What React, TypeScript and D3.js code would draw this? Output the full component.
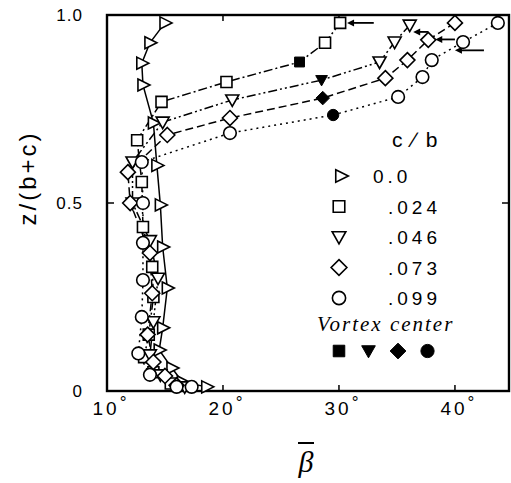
import React from "react";
import * as d3 from "d3";

// [beta (deg), z/(b+c)]
const cb000 = [
  [15.0, 0.979], [13.7, 0.926], [13.0, 0.872], [13.1, 0.814], [14.0, 0.713],
  [14.3, 0.6], [14.6, 0.495], [14.8, 0.383], [15.2, 0.274], [14.8, 0.168],
  [14.5, 0.109], [15.6, 0.061], [16.5, 0.024], [18.6, 0.011],
];
const cb024 = [
  [30.1, 0.979], [28.8, 0.926], [20.3, 0.822], [14.7, 0.769], [12.6, 0.667],
  [13.0, 0.556], [13.1, 0.436], [13.9, 0.33], [14.0, 0.25], [13.6, 0.15],
  [13.2, 0.09], [14.0, 0.05], [15.5, 0.02],
];
const cb046 = [
  [36.1, 0.973], [34.8, 0.928], [33.5, 0.875], [20.8, 0.774], [14.8, 0.715],
  [12.2, 0.609], [12.2, 0.5], [13.7, 0.4], [14.4, 0.3], [14.0, 0.184],
  [13.7, 0.096], [14.6, 0.043], [16.7, 0.011],
];
const cb073 = [
  [40.0, 0.979], [37.7, 0.934], [35.9, 0.88], [34.0, 0.832], [20.6, 0.726],
  [15.2, 0.681], [11.8, 0.582], [12.0, 0.5], [13.7, 0.367], [13.9, 0.26],
  [13.5, 0.15], [14.0, 0.077], [15.0, 0.04], [16.0, 0.015],
];
const cb099 = [
  [43.7, 0.979], [40.7, 0.928], [38.0, 0.88], [37.2, 0.835], [35.1, 0.782],
  [20.6, 0.686], [13.0, 0.609], [13.1, 0.5], [13.1, 0.394], [13.1, 0.295],
  [13.0, 0.197], [12.7, 0.1], [13.7, 0.043], [16.0, 0.011], [17.3, 0.011],
];
// vortex centres, one per c/b
const vortexBeta = [26.6, 28.5, 28.6, 29.5];
const vortexZ = [0.875, 0.827, 0.779, 0.734];
// arrows: [from beta, to beta, z]
const arrows = [
  [33.0, 30.7, 0.979],
  [37.7, 36.4, 0.955],
  [40.0, 38.3, 0.935],
  [42.5, 40.0, 0.906],
];

const legendLabels = ["0.0", ".024", ".046", ".073", ".099"];
const xTicks = [10, 20, 30, 40];
const yTicks = [0, 0.5, 1.0];
const yTickLabels = ["0", "0.5", "1.0"];

const shapes = ["tri", "sq", "dtri", "dia", "circ"];
const dashes = [null, "9,3,2,3", "9,3,2,3,2,3", "8,4", "2,4"];
const allSeries = [cb000, cb024, cb046, cb073, cb099];

const W = 511;
const H = 483;
const left = 107, right = 509, top = 15, bottom = 391;

function markerPath(shape: string, s = 1) {
  switch (shape) {
    case "tri":
      return `M${-5 * s},${-6 * s}L${7 * s},0L${-5 * s},${6 * s}Z`;
    case "sq":
      return `M${-5.5 * s},${-5.5 * s}h${11 * s}v${11 * s}h${-11 * s}Z`;
    case "dtri":
      return `M${-6.5 * s},${-5 * s}L${6.5 * s},${-5 * s}L0,${6.5 * s}Z`;
    case "dia":
      return `M0,${-7.5 * s}L${7.5 * s},0L0,${7.5 * s}L${-7.5 * s},0Z`;
    default:
      return d3.arc()({ innerRadius: 0, outerRadius: 6.3 * s, startAngle: 0, endAngle: Math.PI * 2 }) as string;
  }
}

const App = () => {
  const x = d3.scaleLinear().domain([10, 44.66]).range([left, right]);
  const y = d3.scaleLinear().domain([0, 1]).range([bottom, top]);
  const line = d3
    .line<number[]>()
    .x((d) => x(d[0]))
    .y((d) => y(d[1]));

  const sans = "'Liberation Sans', Arial, sans-serif";
  const serif = "'Liberation Serif', 'Times New Roman', serif";

  return (
    <svg width={W} height={H} style={{ position: "absolute", left: 0, top: 0, background: "#fff" }}>
      {/* frame */}
      <rect x={left} y={top} width={right - left} height={bottom - top} fill="none" stroke="#000" strokeWidth={2.4} />
      {xTicks.slice(1).map((t) => (
        <g key={"xt" + t}>
          <line x1={x(t)} x2={x(t)} y1={bottom} y2={bottom - 6} stroke="#000" strokeWidth={1.5} />
          <line x1={x(t)} x2={x(t)} y1={top} y2={top + 6} stroke="#000" strokeWidth={1.5} />
        </g>
      ))}
      <line x1={left} x2={left + 7} y1={y(0.5)} y2={y(0.5)} stroke="#000" strokeWidth={1.5} />
      <line x1={right} x2={right - 7} y1={y(0.5)} y2={y(0.5)} stroke="#000" strokeWidth={1.5} />

      {/* tick labels */}
      {xTicks.map((t) => (
        <text key={"xl" + t} x={x(t) + 4} y={415} fontFamily={sans} fontSize={19} textAnchor="middle" letterSpacing={3}>
          {t}
          <tspan dy={-7} fontSize={17}>°</tspan>
        </text>
      ))}
      {yTicks.map((t, i) => (
        <text key={"yl" + t} x={83} y={y(t) + 6} fontFamily={sans} fontSize={17} textAnchor="end" letterSpacing={1}>
          {yTickLabels[i]}
        </text>
      ))}

      {/* axis titles */}
      <text
        transform="translate(36,178) rotate(-90)"
        fontFamily={sans}
        fontSize={24}
        textAnchor="middle"
        letterSpacing={3}
      >
        z/(b+c)
      </text>
      <line x1={298} x2={314} y1={443} y2={443} stroke="#000" strokeWidth={2} />
      <text x={306} y={472} fontFamily={serif} fontStyle="italic" fontSize={30} textAnchor="middle">
        β
      </text>

      {/* series lines (vortex centre lies on its curve) */}
      {allSeries.map((s, i) => {
        const pts = i === 0 ? s : [...s, [vortexBeta[i - 1], vortexZ[i - 1]]];
        const sorted = [...pts].sort((a, b) => b[1] - a[1]);
        return (
          <path
            key={"ln" + i}
            d={line(sorted) as string}
            fill="none"
            stroke="#000"
            strokeWidth={1.5}
            strokeDasharray={dashes[i] ?? undefined}
          />
        );
      })}

      {/* arrows */}
      {arrows.map((a, i) => (
        <g key={"ar" + i}>
          <line x1={x(a[0])} x2={x(a[1]) + 5} y1={y(a[2])} y2={y(a[2])} stroke="#000" strokeWidth={1.8} />
          <path d={`M${x(a[1])},${y(a[2])}l7,-3.5v7Z`} fill="#000" />
        </g>
      ))}

      {/* markers */}
      {allSeries.map((s, i) =>
        s.map((d, j) => (
          <path
            key={"m" + i + "-" + j}
            d={markerPath(shapes[i])}
            transform={`translate(${x(d[0])},${y(d[1])})`}
            fill="#fff"
            stroke="#000"
            strokeWidth={1.6}
          />
        ))
      )}
      {vortexBeta.map((b, i) => (
        <path
          key={"v" + i}
          d={markerPath(shapes[i + 1], 0.9)}
          transform={`translate(${x(b)},${y(vortexZ[i])})`}
          fill="#000"
          stroke="#000"
          strokeWidth={1}
        />
      ))}

      {/* legend */}
      <text x={392} y={147} fontFamily={sans} fontSize={21} letterSpacing={2}>
        c ∕ b
      </text>
      {legendLabels.map((l, i) => {
        const ly = 176 + i * 30.5;
        return (
          <g key={"lg" + i}>
            <path
              d={markerPath(shapes[i], 1.05)}
              transform={`translate(${i === 0 ? 341 : 339},${ly})`}
              fill="#fff"
              stroke="#000"
              strokeWidth={1.6}
            />
            <text x={i === 0 ? 373 : 388} y={ly + 7} fontFamily={sans} fontSize={19} letterSpacing={4}>
              {l}
            </text>
          </g>
        );
      })}
      <text x={317} y={331} fontFamily={serif} fontStyle="italic" fontSize={21} letterSpacing={2}>
        Vortex center
      </text>
      {[0, 1, 2, 3].map((i) => (
        <path
          key={"lv" + i}
          d={markerPath(shapes[i + 1], 1.05)}
          transform={`translate(${339 + i * 29.5},${351})`}
          fill="#000"
          stroke="#000"
          strokeWidth={1}
        />
      ))}
    </svg>
  );
};

export default App;
